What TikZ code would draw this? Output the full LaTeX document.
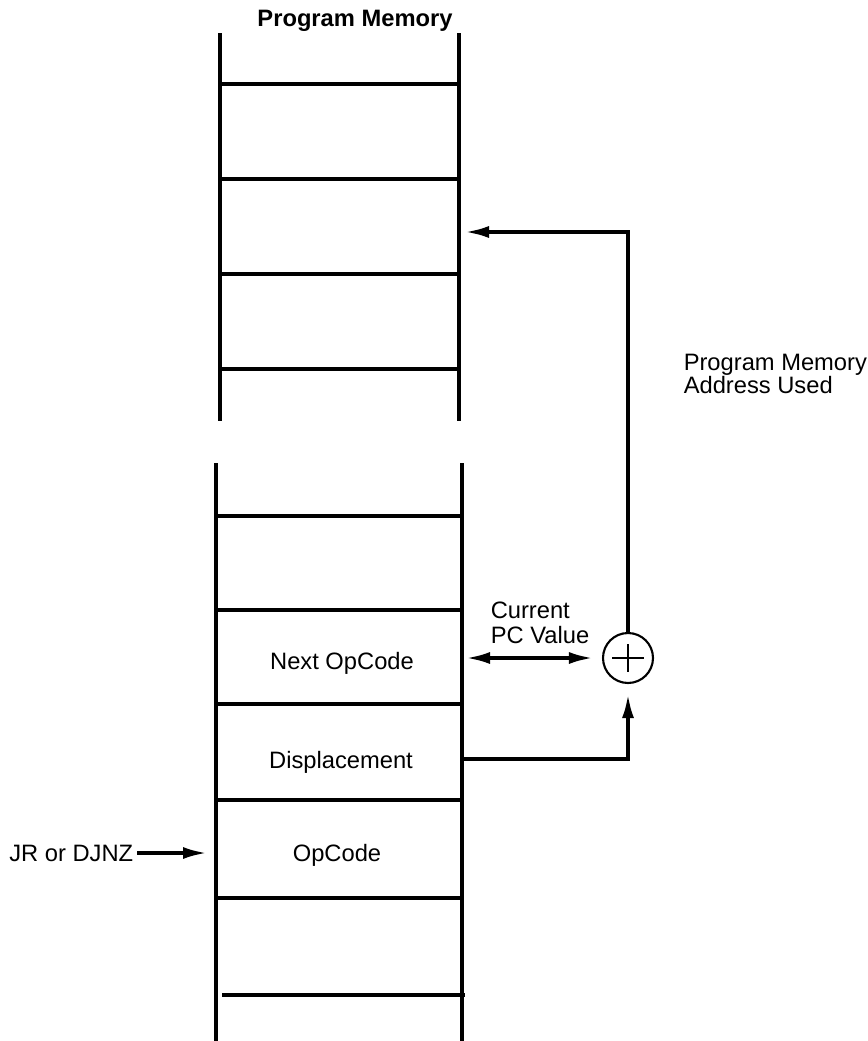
\documentclass[tikz,border=0pt]{standalone}
\usepackage{fontspec}
\setmainfont{Liberation Sans}
\usetikzlibrary{arrows.meta,positioning}

\begin{document}
\begin{tikzpicture}[x=0.02cm, y=-0.02cm, line width=2pt,
    >={Latex[length=0.48cm,width=0.24cm]},
    lbl/.style={inner sep=0pt, font=\fontsize{13.5}{15}\selectfont}]
    \useasboundingbox (0,0) rectangle (868,1041);
    % Upper part of the memory
    \draw (220,33) -- (220,421);
    \draw (459,33) -- (459,421);
    \foreach \y in {84,179,274,369}
        \draw (220,\y) -- (461,\y);
    % Lower part of the memory
    \draw (216,463) -- (216,1041);
    \draw (462,463) -- (462,1041);
    \foreach \y in {516,610,704,800,898}
        \draw (216,\y) -- (463,\y);
    \draw (222,995) -- (465,995);
    % Labels
    \node[lbl, font=\fontsize{13.5}{15}\bfseries\selectfont, anchor=base] (title) at (355,27) {Program Memory};
    \node[lbl, anchor=base] (next) at (342,669) {Next OpCode};
    \node[lbl, anchor=base] (disp) at (341,768) {Displacement};
    \node[lbl, anchor=base] (opc) at (337,861) {OpCode};
    \node[lbl, anchor=east] (jr) at (135,853) {JR or DJNZ};
    \node[lbl, anchor=north west, align=left, font=\fontsize{13.5}{14.2}\selectfont] (pcval) at (489,600) {Current\\PC Value};
    \node[lbl, anchor=north west, align=left, font=\fontsize{13.5}{12.5}\selectfont] (used) at (682,352) {Program Memory\\Address Used};
    % Adder
    \node[draw, circle, line width=1.2pt, minimum size=1cm, inner sep=0pt] (add) at (628,658) {};
    \draw[line width=1.2pt] (add.center) ++(-16,0) -- ++(32,0);
    \draw[line width=1.2pt] (add.center) ++(0,-14) -- ++(0,28);
    % Connections
    \coordinate (pmaddr) at (465,232);
    \coordinate (pcout) at (466,658);
    \coordinate (dispout) at (462,759);
    \coordinate (jrtip) at (207,853);
    \draw[->] (add.north) |- (pmaddr);
    \draw[<->, shorten >=0.18cm] (pcout) -- (add.west);
    \draw[->, shorten >=0.2cm] (dispout) -| (add.south);
    \draw[->] (jr.east) ++(2,0) -- (jrtip);
\end{tikzpicture}
\end{document}
